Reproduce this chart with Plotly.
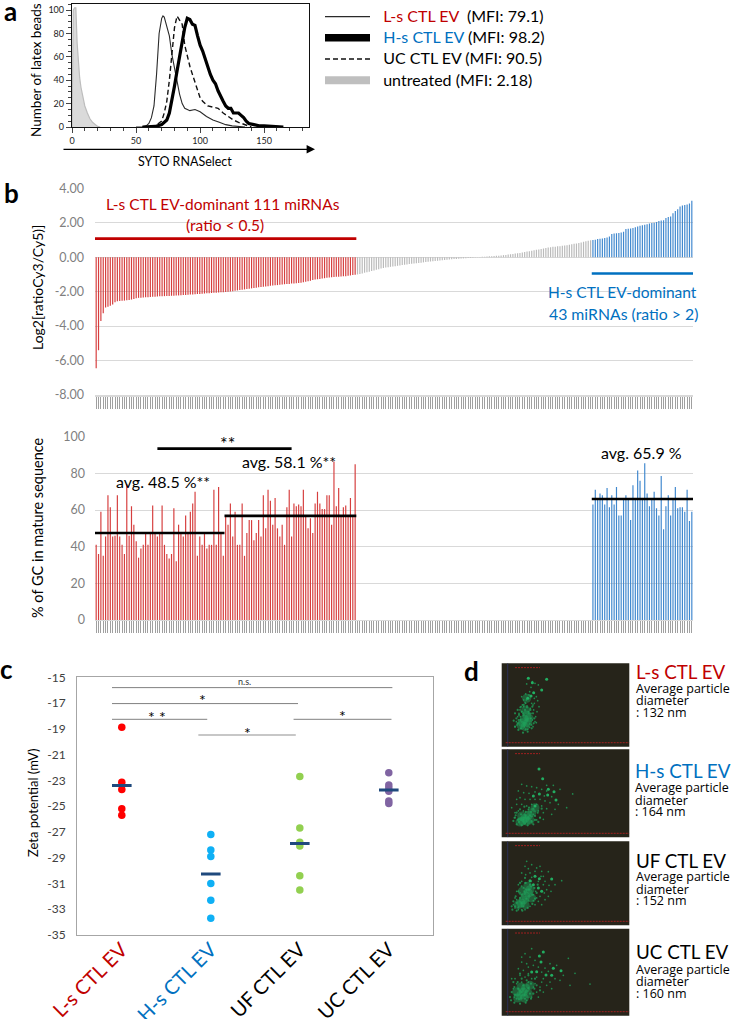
import numpy as np
import plotly.graph_objects as go

W, H = 733, 1019
SANS = "Lato"
RED = "#C00000"
BLUE = "#0070C0"

# ---------- panel a ----------
ls_x = [50, 55, 58, 60, 62, 64, 66, 68, 70, 71, 72, 74, 76, 78, 80, 82, 84, 86, 88, 90, 92, 96, 100, 105, 110, 115, 120, 125, 130, 135]
ls_y = [0, 0, 1, 3, 8, 18, 45, 80, 93, 95, 94, 85, 78, 62, 50, 40, 28, 20, 16, 15, 14, 15, 13, 9, 6, 4, 2, 1, 0.5, 0]
uc_x = [55, 60, 65, 70, 72, 74, 76, 78, 80, 82, 84, 86, 88, 90, 92, 94, 96, 98, 100, 102, 106, 110, 114, 118, 122, 126, 130, 135, 140]
uc_y = [0, 0, 1, 5, 12, 22, 40, 65, 85, 95, 92, 88, 70, 60, 52, 45, 38, 30, 25, 22, 18, 17, 16, 12, 9, 6, 4, 2, 0]
hs_x = [55, 60, 65, 70, 74, 76, 78, 80, 82, 84, 86, 88, 90, 92, 94, 96, 98, 100, 102, 104, 106, 108, 110, 112, 114, 116, 118, 120, 122, 124, 126, 128, 130, 132, 134, 136, 138, 142, 146, 150, 155, 160, 165]
hs_y = [0, 0, 0.5, 2, 6, 12, 22, 35, 48, 60, 72, 85, 93, 92, 88, 87, 78, 70, 65, 58, 52, 45, 40, 37, 31, 26, 22, 18, 16, 16, 12, 12, 12, 10, 8, 5, 3, 2, 1, 1, 0.5, 0.5, 0]
un_x = [0, 1, 2, 3, 4, 5, 6, 7, 8, 9, 10, 12, 14, 16, 18, 20, 22]
un_y = [0, 100, 102, 102, 72, 56, 42, 34, 28, 24, 18, 12, 7, 4, 2, 0.5, 0]
LEG = 'font-size:16px'
legend_names = [
    f'<span style="{LEG};color:{RED}">&nbsp;&nbsp;L-s CTL EV</span><span style="{LEG}">&nbsp;&nbsp;(MFI: 79.1)</span>',
    f'<span style="{LEG};color:{BLUE}">&nbsp;&nbsp;H-s CTL EV</span><span style="{LEG}">&nbsp;(MFI: 98.2)</span>',
    f'<span style="{LEG}">&nbsp;&nbsp;UC CTL EV (MFI: 90.5)</span>',
    f'<span style="{LEG}">&nbsp;&nbsp;untreated (MFI: 2.18)</span>',
]

# ---------- panel b ----------
ls_log2 = [-6.45, -5.4, -3.7, -3.25, -2.92, -2.88, -2.82, -2.75, -2.62, -2.56, -2.55, -2.53, -2.52, -2.5, -2.48, -2.46,
           -2.42, -2.38, -2.36, -2.35, -2.34, -2.33, -2.32, -2.31, -2.3, -2.29, -2.28, -2.27, -2.26, -2.26, -2.25, -2.25,
           -2.24, -2.24, -2.23, -2.22, -2.21, -2.2, -2.19, -2.18, -2.17, -2.16, -2.15, -2.14, -2.13, -2.12, -2.11, -2.1,
           -2.09, -2.08, -2.07, -2.06, -2.05, -2.04, -2.03, -2.02, -2.0, -1.99, -1.97, -1.95, -1.93, -1.91, -1.89, -1.87,
           -1.85, -1.83, -1.81, -1.79, -1.77, -1.75, -1.73, -1.72, -1.7, -1.68, -1.66, -1.65, -1.63, -1.62, -1.6, -1.59,
           -1.57, -1.56, -1.55, -1.53, -1.52, -1.51, -1.5, -1.48, -1.45, -1.42, -1.4, -1.37, -1.33, -1.3, -1.28, -1.26,
           -1.24, -1.22, -1.2, -1.18, -1.16, -1.15, -1.14, -1.13, -1.12, -1.11, -1.1, -1.08, -1.06, -1.04, -1.02]
other_log2 = [-1.0, -0.98, -0.95, -0.9, -0.87, -0.84, -0.8, -0.77, -0.73, -0.7, -0.66, -0.62, -0.6, -0.58, -0.56, -0.54,
              -0.52, -0.5, -0.48, -0.46, -0.44, -0.42, -0.4, -0.38, -0.36, -0.35, -0.33, -0.32, -0.3, -0.28, -0.27, -0.25,
              -0.24, -0.22, -0.21, -0.19, -0.18, -0.16, -0.15, -0.13, -0.12, -0.11, -0.1, -0.09, -0.08, -0.07, -0.06, -0.05,
              -0.04, -0.03, -0.02, -0.01, 0.01, 0.02, 0.03, 0.04, 0.05, 0.06, 0.07, 0.08, 0.09, 0.1, 0.12, 0.13, 0.15, 0.17,
              0.19, 0.21, 0.23, 0.25, 0.28, 0.3, 0.33, 0.35, 0.38, 0.4, 0.43, 0.45, 0.48, 0.5, 0.53, 0.56, 0.58, 0.6, 0.61,
              0.63, 0.64, 0.66, 0.68, 0.7, 0.73, 0.75, 0.78, 0.8, 0.83, 0.86, 0.9, 0.93, 0.96, 0.98]
hs_log2 = [1.0, 1.02, 1.05, 1.07, 1.09, 1.12, 1.15, 1.2, 1.35, 1.38, 1.39, 1.41, 1.43, 1.48, 1.63, 1.65, 1.67, 1.7, 1.74,
           1.78, 1.83, 1.86, 1.89, 1.92, 1.95, 1.98, 2.0, 2.05, 2.1, 2.13, 2.15, 2.28, 2.33, 2.37, 2.55, 2.68, 2.78,
           2.95, 3.0, 3.03, 3.06, 3.12, 3.27]
ls_gc = [41, 36, 59, 35, 45.5, 68, 61.5, 45.5, 46, 68, 45.5, 41, 36, 74, 46, 62, 52, 43, 34, 39, 41, 47, 41, 47, 62.5, 47,
         45.5, 47, 62.5, 41, 36, 33.5, 36, 61, 32, 52, 47, 45.5, 57, 47, 59, 63.5, 70, 35, 45.5, 41, 47, 39, 41, 41, 71,
         41, 72.5, 47, 35, 56.5, 52, 63.5, 45.5, 59, 41, 41, 63.5, 35, 47.5, 54.5, 54.5, 43.5, 47.5, 54.5, 45.5, 68, 50,
         71, 65, 52, 66.5, 50, 45.5, 52, 41, 61.5, 71, 45.5, 63.5, 62, 63, 62, 71, 57, 50, 55.5, 47.5, 63.5, 70, 63.5,
         60.5, 60.5, 68, 68, 52, 86.5, 62, 72, 57, 61.5, 62.5, 57, 66.5, 57, 85]
hs_gc = [63, 71, 66, 69, 68, 63, 72, 61.5, 68, 63, 72.5, 57, 57, 66, 68, 66, 54.5, 73.5, 66, 81.5, 76, 66, 85.5, 69, 62, 66,
         70, 61, 57, 78.5, 49.5, 62, 68, 57, 66, 72.5, 61, 61.5, 61.5, 59, 71, 54, 59]
log2_ticks = [4, 2, 0, -2, -4, -6, -8]
log2_labels = ["4.00", "2.00", "0.00", "-2.00", "-4.00", "-6.00", "-8.00"]
gc_ticks = [0, 20, 40, 60, 80, 100]

# ---------- panel c ----------
groups = ["L-s CTL EV", "H-s CTL EV", "UF CTL EV", "UC CTL EV"]
zeta_ls = [-18.88, -23.15, -23.7, -25.2, -25.7]
zeta_hs = [-27.2, -28.4, -28.9, -31.0, -32.3, -33.7]
zeta_uf = [-22.7, -26.7, -27.8, -28.1, -30.4, -31.5]
zeta_uc = [-22.4, -23.35, -23.6, -23.85, -24.6, -24.8]
zeta_means = [-23.4, -30.27, -27.9, -23.75]
zeta_ticks = [-15, -17, -19, -21, -23, -25, -27, -29, -31, -33, -35]
zeta_labels = [str(v) for v in zeta_ticks]
group_colors = ["#FF0000", "#0FB0F5", "#92D050", "#8064A2"]

# ---------- panel d (particle maps, read as x, y in the crop) ----------
d1_core = [(68, 168), (62, 178), (75, 155), (58, 186), (78, 178), (72, 140), (75, 105), (70, 190), (82, 165)]
d1_big = [(80, 45), (92, 58), (120, 80), (135, 48), (96, 88), (78, 105), (88, 98)]
d1_halo = [(40, 150), (48, 140), (56, 132), (66, 125), (76, 132), (86, 140), (94, 150), (98, 165), (96, 180), (90, 195), (78, 205),
           (64, 208), (50, 200), (40, 190), (36, 172), (44, 165), (52, 155), (60, 145), (70, 140), (82, 150), (88, 165), (84, 182),
           (72, 198), (58, 195), (48, 180), (56, 170), (66, 155), (76, 170), (66, 185), (92, 130)]
d1_small = [(78, 45), (92, 55), (100, 60), (75, 62), (88, 72), (110, 65), (96, 88), (72, 92), (84, 85), (60, 100), (66, 110),
            (70, 118), (82, 95), (90, 120), (98, 105), (104, 100), (58, 130), (62, 125), (76, 128), (86, 135), (94, 125),
            (108, 112), (52, 150), (48, 160), (55, 140), (64, 150), (72, 120), (80, 145), (88, 150), (96, 140), (102, 160),
            (44, 175), (50, 170), (58, 195), (68, 190), (78, 198), (90, 185), (100, 175), (46, 185), (56, 160), (66, 130),
            (86, 165), (112, 130), (70, 178), (60, 145), (84, 192), (94, 190), (74, 110), (104, 178), (92, 170), (40, 190),
            (98, 120), (106, 145)]
d2_core = [(70, 207), (62, 215), (80, 198), (55, 218), (90, 190), (75, 215), (100, 175), (60, 200), (85, 212)]
d2_big = [(112, 59), (123, 88), (138, 137), (157, 127), (163, 152), (113, 134), (95, 140), (100, 170), (140, 120)]
d2_halo = [(40, 205), (45, 190), (55, 180), (68, 172), (82, 175), (95, 178), (108, 190), (115, 205), (110, 218), (95, 225), (78, 228),
           (60, 228), (45, 225), (35, 215), (50, 210), (58, 195), (72, 188), (88, 188), (100, 200), (90, 218), (70, 222), (52, 218),
           (65, 205), (80, 205), (42, 198), (100, 212), (120, 178), (72, 200), (85, 198), (58, 212)]
d2_small = [(213, 134), (60, 105), (75, 110), (90, 112), (105, 115), (120, 120), (135, 125), (50, 125), (66, 130), (82, 132),
            (100, 128), (128, 140), (150, 142), (170, 165), (160, 180), (145, 160), (130, 155), (115, 150), (100, 150),
            (85, 150), (70, 150), (55, 145), (45, 165), (60, 165), (75, 170), (90, 165), (105, 165), (120, 170), (135, 178),
            (150, 195), (125, 190), (110, 185), (95, 195), (40, 190), (50, 185), (38, 205), (115, 205), (125, 210), (105, 212),
            (65, 185), (80, 180), (45, 150), (30, 175), (175, 120), (155, 108), (135, 108), (195, 175), (90, 215), (48, 212)]
d3_core = [(65, 176), (72, 165), (58, 185), (80, 155), (50, 190), (85, 145), (70, 190), (90, 170), (62, 150), (78, 135)]
d3_big = [(113, 112), (150, 113), (100, 105), (85, 118), (95, 130), (110, 140), (120, 150)]
d3_halo = [(30, 195), (35, 180), (42, 165), (50, 150), (60, 135), (72, 125), (85, 130), (98, 140), (105, 155), (100, 172), (92, 188),
           (78, 200), (62, 208), (45, 208), (32, 205), (45, 185), (55, 170), (68, 150), (82, 145), (92, 160), (80, 178), (65, 195),
           (50, 198), (60, 160), (74, 172), (40, 195), (88, 120), (108, 130), (70, 110), (55, 125)]
d3_small = [(140, 91), (180, 118), (70, 75), (80, 82), (90, 70), (105, 80), (120, 90), (60, 95), (72, 100), (85, 95), (100, 90),
            (118, 105), (130, 120), (142, 132), (135, 145), (125, 130), (110, 120), (60, 120), (50, 130), (70, 125), (88, 135),
            (102, 150), (115, 165), (128, 155), (95, 160), (105, 170), (45, 150), (55, 155), (40, 170), (35, 190), (110, 180),
            (85, 195), (100, 190), (70, 205), (50, 205), (40, 200), (148, 150), (140, 165), (130, 175), (120, 190), (160, 130),
            (75, 60), (115, 75), (125, 105), (90, 108), (65, 140), (45, 175), (60, 205), (95, 178)]
d4_core = [(57, 199), (65, 190), (48, 208), (72, 178), (58, 175), (80, 195), (45, 190), (68, 208), (85, 170)]
d4_big = [(113, 82), (155, 119), (178, 126), (105, 129), (133, 139), (125, 70), (118, 100), (90, 130), (150, 140)]
d4_halo = [(25, 205), (30, 190), (38, 175), (48, 160), (60, 150), (75, 155), (88, 165), (98, 180), (95, 195), (88, 210), (72, 222),
           (55, 225), (38, 222), (28, 215), (40, 198), (50, 180), (65, 170), (80, 178), (85, 195), (70, 210), (52, 212), (60, 190),
           (72, 192), (45, 210), (105, 170), (35, 160), (55, 135), (80, 140), (100, 150), (115, 185)]
d4_small = [(265, 166), (220, 134), (200, 89), (90, 60), (70, 75), (85, 85), (100, 95), (60, 100), (75, 105), (95, 110), (110, 115),
            (130, 118), (145, 105), (165, 110), (50, 120), (65, 125), (80, 115), (120, 130), (140, 128), (160, 150), (175, 155),
            (145, 160), (125, 150), (105, 145), (90, 150), (70, 145), (55, 140), (40, 150), (45, 165), (60, 160), (80, 160),
            (100, 165), (115, 175), (135, 170), (125, 190), (105, 190), (90, 205), (110, 205), (75, 215), (35, 180), (38, 205),
            (30, 150), (60, 85), (185, 140), (205, 170), (95, 175), (150, 180), (80, 135), (120, 160)]
d_titles = ["L-s CTL EV", "H-s CTL EV", "UF CTL EV", "UC CTL EV"]
d_sizes = [": 132 nm", ": 164 nm", ": 152 nm", ": 160 nm"]


def px(x):
    return x / W


def py(y):
    return 1 - y / H


def dom_x(l, r):
    return [px(l), px(r)]


def dom_y(t, b):
    return [py(b), py(t)]


fig = go.Figure()

# ---- a ----
fig.add_trace(go.Scatter(x=un_x, y=un_y, mode="lines", fill="tozeroy", fillcolor="#DADADA", line=dict(color="#BDBDBD", width=1.2),
                         showlegend=False, xaxis="x", yaxis="y"))
fig.add_trace(go.Scatter(x=ls_x, y=ls_y, mode="lines", line=dict(color="#2A2A2A", width=1.1), name=legend_names[0], legendrank=1,
                         xaxis="x", yaxis="y"))
fig.add_trace(go.Scatter(x=uc_x, y=uc_y, mode="lines", line=dict(color="#111111", width=1.4, dash="5px,3px"), name=legend_names[2],
                         legendrank=3, xaxis="x", yaxis="y"))
fig.add_trace(go.Scatter(x=hs_x, y=hs_y, mode="lines", line=dict(color="#000000", width=3.2), showlegend=False, xaxis="x", yaxis="y"))
fig.add_trace(go.Scatter(x=[None], y=[None], mode="lines", line=dict(color="#000000", width=7.5), name=legend_names[1], legendrank=2,
                         xaxis="x", yaxis="y"))
fig.add_trace(go.Scatter(x=[None], y=[None], mode="lines", line=dict(color="#BFBFBF", width=8), name=legend_names[3], legendrank=4,
                         xaxis="x", yaxis="y"))

# ---- b ----
BAR_W = 0.5
n_ls, n_other, n_hs = len(ls_log2), len(other_log2), len(hs_log2)
ix_ls = np.arange(n_ls)
ix_other = np.arange(n_ls, n_ls + n_other)
ix_hs = np.arange(n_ls + n_other, n_ls + n_other + n_hs)
C_RED, C_GREY, C_BLUE = "rgba(214,60,60,0.99)", "rgba(185,185,185,0.99)", "rgba(62,135,205,0.99)"
for ix, vals, col in [(ix_ls, ls_log2, C_RED), (ix_other, other_log2, C_GREY), (ix_hs, hs_log2, C_BLUE)]:
    fig.add_trace(go.Bar(x=ix, y=vals, width=BAR_W, marker=dict(color=col, line_width=0), showlegend=False, xaxis="x2", yaxis="y2"))
for ix, vals, col in [(ix_ls, ls_gc, C_RED), (ix_hs, hs_gc, C_BLUE)]:
    fig.add_trace(go.Bar(x=ix, y=vals, width=BAR_W, marker=dict(color=col, line_width=0), showlegend=False, xaxis="x3", yaxis="y3"))

# ---- c ----
for i, vals in enumerate([zeta_ls, zeta_hs, zeta_uf, zeta_uc]):
    fig.add_trace(go.Scatter(x=[groups[i]] * len(vals), y=vals, mode="markers",
                             marker=dict(color=group_colors[i], size=7.5), showlegend=False, xaxis="x4", yaxis="y4"))
fig.add_trace(go.Scatter(x=groups, y=zeta_means, mode="markers",
                         marker=dict(symbol="line-ew", size=14, line=dict(color="#1F497D", width=3)),
                         showlegend=False, xaxis="x4", yaxis="y4"))

# ---- d ----
d_boxes = [(663.3, 746.7), (749.3, 837.3), (841.3, 925.3), (928.7, 1015.7)]
d_data = [(d1_core, d1_big, d1_halo, d1_small), (d2_core, d2_big, d2_halo, d2_small),
          (d3_core, d3_big, d3_halo, d3_small), (d4_core, d4_big, d4_halo, d4_small)]
for k, (core, big, halo, small) in enumerate(d_data):
    ax = k + 5
    for pts, size, op, col in [(core, 9, 0.45, "#1FA860"), (halo, 2.2, 0.8, "#1E9E58"), (small, 1.7, 0.85, "#1E9E58"), (big, 3, 0.95, "#22B565")]:
        fig.add_trace(go.Scatter(x=[p[0] for p in pts], y=[p[1] for p in pts], mode="markers",
                                 marker=dict(size=size, color=col, opacity=op, line_width=0), showlegend=False,
                                 xaxis=f"x{ax}", yaxis=f"y{ax}"))

GRID = "#D9D9D9"
layout = dict(
    template="none", width=W, height=H, margin=dict(l=0, r=0, t=0, b=0), paper_bgcolor="white", plot_bgcolor="white",
    font=dict(family=SANS, color="#000000"), barmode="overlay", bargap=0.2, showlegend=True, hovermode=False,
    legend=dict(x=px(320), y=py(1), xanchor="left", yanchor="top", font=dict(size=14, family=SANS), bgcolor="rgba(0,0,0,0)",
                itemwidth=45, tracegroupgap=0, traceorder="normal"),
)
# a axes
layout["xaxis"] = dict(domain=dom_x(72, 309), range=[0, 185], tickvals=[0, 50, 100, 150], ticks="outside", ticklen=5, tickwidth=1.2,
                       minor=dict(dtick=10, ticks="outside", ticklen=3, tickwidth=1), showline=True, linecolor="#111", linewidth=1.3,
                       mirror=True, showgrid=False, zeroline=False, anchor="y", tickfont=dict(size=9, color="#222"), automargin=False)
layout["yaxis"] = dict(domain=dom_y(4.3, 127), range=[0, 105], tickvals=[0, 20, 40, 60, 80, 100], ticks="outside", ticklen=5, tickwidth=1.2,
                       minor=dict(dtick=5, ticks="outside", ticklen=3, tickwidth=1), showline=True, linecolor="#111", linewidth=1.3,
                       mirror=True, showgrid=False, zeroline=False, anchor="x", tickfont=dict(size=9, color="#222"), automargin=False)
# b axes
xr = [-0.5, 253.5]
tick_all = list(range(254))
layout["xaxis2"] = dict(domain=dom_x(95, 693), range=xr, anchor="y2", tickvals=tick_all, showticklabels=False, ticks="outside", ticklen=12,
                        tickwidth=1, tickcolor="#A0A0A0", showgrid=False, zeroline=False, showline=True, linecolor=GRID, linewidth=1.5, automargin=False)
layout["yaxis2"] = dict(domain=dom_y(188.3, 395), range=[-8, 4], anchor="x2", tickvals=log2_ticks, ticktext=log2_labels, gridcolor=GRID,
                        gridwidth=1.3, zeroline=False, showline=False, tickfont=dict(size=12.5, color="#7F7F7F"), ticks="", ticklabelstandoff=10, automargin=False)
layout["xaxis3"] = dict(domain=dom_x(95, 693), range=xr, anchor="y3", tickvals=tick_all, showticklabels=False, ticks="outside", ticklen=12,
                        tickwidth=1, tickcolor="#A0A0A0", showgrid=False, zeroline=False, showline=True, linecolor=GRID, linewidth=1.3, automargin=False)
layout["yaxis3"] = dict(domain=dom_y(436.7, 620), range=[0, 100], anchor="x3", tickvals=gc_ticks, gridcolor=GRID, gridwidth=1.3,
                        zeroline=False, showline=False, tickfont=dict(size=12.5, color="#7F7F7F"), ticks="", ticklabelstandoff=9, automargin=False)
# c axes
FRAME = "#A6A6A6"
layout["xaxis4"] = dict(domain=dom_x(77.3, 433.3), type="category", categoryorder="array", categoryarray=groups, range=[-0.5, 3.5], anchor="y4",
                        tickvals=groups,
                        ticktext=[f'<span style="color:{RED}">{groups[0]}</span>', f'<span style="color:{BLUE}">{groups[1]}</span>', groups[2], groups[3]],
                        tickangle=-45, tickfont=dict(size=20), ticks="", ticklabelstandoff=-6, showline=True, linecolor=FRAME, linewidth=1.3, mirror=True,
                        showgrid=False, automargin=False)
layout["yaxis4"] = dict(domain=dom_y(677.3, 935), range=[-35, -15], anchor="x4", tickvals=zeta_ticks, ticktext=zeta_labels, tickfont=dict(size=12, color="#404040"),
                        ticks="", ticklabelstandoff=8, showline=True, linecolor=FRAME, linewidth=1.3, mirror=True, showgrid=False, zeroline=False, automargin=False)
# d axes
shapes = []
for k, (t, b) in enumerate(d_boxes):
    ax = k + 5
    h_zoom = (b - t) * 3
    layout[f"xaxis{ax}"] = dict(domain=dom_x(501.7, 629.3), range=[0, 383], anchor=f"y{ax}", visible=False, fixedrange=True, automargin=False)
    layout[f"yaxis{ax}"] = dict(domain=dom_y(t, b), range=[h_zoom, 0], anchor=f"x{ax}", visible=False, fixedrange=True, automargin=False)
    shapes.append(dict(type="rect", xref="paper", yref="paper", x0=px(501.7), x1=px(629.3), y0=py(b), y1=py(t), fillcolor="#26241A", line_width=0, layer="below"))
    shapes.append(dict(type="line", xref=f"x{ax}", yref=f"y{ax}", x0=18, x1=18, y0=0, y1=h_zoom, line=dict(color="#2A2F55", width=1)))
    shapes.append(dict(type="line", xref=f"x{ax}", yref=f"y{ax}", x0=12, x1=383, y0=h_zoom - 12, y1=h_zoom - 12, line=dict(color="#A02020", width=1, dash="2px,1px")))
    shapes.append(dict(type="line", xref=f"x{ax}", yref=f"y{ax}", x0=40, x1=115, y0=13, y1=13, line=dict(color="#A02020", width=1, dash="2px,1px")))

# b mean and comparison lines, in data coordinates
for x0, x1, yv in [(-1, 54.5, 47.5), (54.5, 110.5, 56.8), (210.5, 253.5, 66), (26, 83, 93.5)]:
    shapes.append(dict(type="line", xref="x3", yref="y3", x0=x0, x1=x1, y0=yv, y1=yv, line=dict(color="#000", width=2.6)))
# lines annotating groups
shapes.append(dict(type="line", xref="x2", yref="y2", x0=-2.5, x1=110.5, y0=1.08, y1=1.08, line=dict(color=RED, width=2.6)))
shapes.append(dict(type="line", xref="x2", yref="y2", x0=210.5, x1=254, y0=-0.95, y1=-0.95, line=dict(color=BLUE, width=2.6)))
# c brackets
for x0, x1, yv, col, wid in [(-0.11, 3.04, -15.8, "#808080", 1), (-0.11, 1.98, -17.04, "#808080", 1), (-0.11, 0.96, -18.26, "#808080", 1),
                             (1.93, 3.03, -18.26, "#808080", 1), (0.86, 1.955, -19.48, "#B5B5B5", 1.5)]:
    shapes.append(dict(type="line", xref="x4", yref="y4", x0=x0, x1=x1, y0=yv, y1=yv, line=dict(color=col, width=wid)))
layout["shapes"] = shapes


def note(x, y, text, size=14, color="#000", anchor="left", family=SANS, bold=False, angle=0):
    t = f"<b>{text}</b>" if bold else text
    return dict(xref="paper", yref="paper", x=px(x), y=py(y), text=t, showarrow=False, xanchor=anchor, yanchor="middle",
                font=dict(size=size, color=color, family=family), textangle=angle, align="left", borderpad=0)


ann = [
    note(3, 11, "a", 26, bold=True), note(3, 193, "b", 26, bold=True), note(-1, 669, "c", 26, bold=True), note(463, 671, "d", 26, bold=True),
    note(36, 70, "Number of latex beads", 13.5, anchor="center", angle=-90),
    note(185, 161, "SYTO RNASelect", 12.5, anchor="center"),
    note(37, 288, "Log2[ratioCy3/Cy5)]", 14, anchor="center", angle=-90),
    note(37, 528, "% of GC in mature sequence", 14.5, anchor="center", angle=-90),
    note(33, 803, "Zeta potential (mV)", 13, anchor="center", angle=-90),
    note(223, 204, "L-s CTL EV-dominant 111 miRNAs", 15.5, RED, "center"),
    note(225, 225, "(ratio &lt; 0.5)", 15.5, RED, "center"),
    note(547, 292, "H-s CTL EV-dominant", 15.5, BLUE),
    note(548, 313, "43 miRNAs (ratio &gt; 2)", 15.8, BLUE),
    note(115, 481, "avg. 48.5 %**", 16),
    note(241, 461, "avg. 58.1 %**", 16),
    note(600, 452, "avg. 65.9 %", 16),
    note(228, 443, "**", 18, anchor="center"),
    note(244, 681, "n.s.", 9, "#333", "center"),
    note(202, 699, "*", 16, anchor="center"),
    note(157, 716, "* *", 16, anchor="center"),
    note(342, 715, "*", 16, anchor="center"),
    note(247, 732, "*", 16, anchor="center"),
]
d_text_rows = [(671.5, 688, 700.5, 712), (770.5, 787.5, 800, 811.5), (860, 876.7, 889, 900), (951.7, 969, 981.7, 993)]
d_cols = [RED, BLUE, "#000", "#000"]
for i, rows in enumerate(d_text_rows):
    x0 = 635 if i != 1 else 634
    ann.append(note(x0, rows[0], d_titles[i], 18.8, d_cols[i]))
    ann.append(note(x0, rows[1], "Average particle", 12.5, family="Open Sans"))
    ann.append(note(x0, rows[2], "diameter", 12.5, family="Open Sans"))
    ann.append(note(x0, rows[3], d_sizes[i], 12.5, family="Open Sans"))
# axis arrow for panel a
ann.append(dict(xref="paper", yref="paper", x=px(315), y=py(149.3), ax=-253, ay=0, text="", showarrow=True, arrowhead=2,
                arrowsize=1.4, arrowwidth=1.2, arrowcolor="#000"))
layout["annotations"] = ann

fig.update_layout(**layout)
fig.write_html("out.html", config={"displayModeBar": False},
               post_script="document.body.style.margin='0';document.body.style.overflow='hidden';")
